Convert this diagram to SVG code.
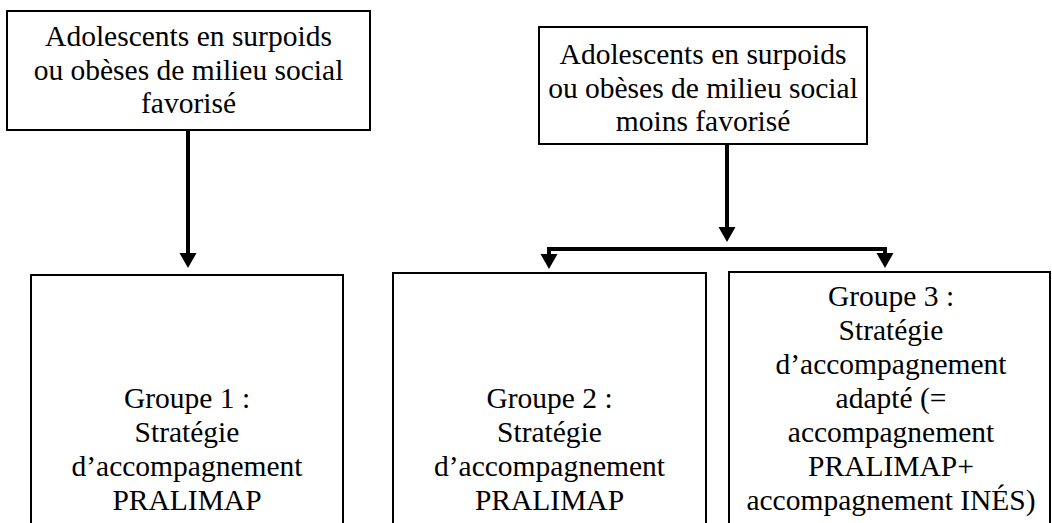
<svg xmlns="http://www.w3.org/2000/svg" width="1052" height="523" viewBox="0 0 1052 523">
<style>
.box{fill:#fff;stroke:#000;stroke-width:2}
.t{font-family:"Liberation Serif","Times New Roman",serif;font-size:29.5px;fill:#000;text-anchor:middle}
.c{stroke:#000;stroke-width:4;fill:none}
</style>
<rect width="1052" height="523" fill="#fff"/>
<g id="connectors">
<line class="c" x1="188" y1="130" x2="188" y2="254"/>
<path d="M179.5,253 L196.5,253 L188,268 Z" fill="#000"/>
<line class="c" x1="727" y1="144" x2="727" y2="228"/>
<path d="M718.5,227 L735.5,227 L727,242 Z" fill="#000"/>
<polyline class="c" points="549,256 549,249 885,249 885,255"/>
<path d="M540.5,254 L557.5,254 L549,269 Z" fill="#000"/>
<path d="M876.5,253 L893.5,253 L885,268 Z" fill="#000"/>
</g>
<g id="n1">
<rect class="box" x="7" y="11" width="363" height="119"/>
<text class="t"><tspan x="188.5" y="46">Adolescents en surpoids</tspan><tspan x="188.5" y="79.5">ou obèses de milieu social</tspan><tspan x="188.5" y="113">favorisé</tspan></text>
</g>
<g id="n2">
<rect class="box" x="539" y="27" width="328" height="117"/>
<text class="t"><tspan x="703" y="64">Adolescents en surpoids</tspan><tspan x="703" y="97.5">ou obèses de milieu social</tspan><tspan x="703" y="131">moins favorisé</tspan></text>
</g>
<g id="g1">
<rect class="box" x="31" y="275" width="312" height="260"/>
<text class="t"><tspan x="187" y="408">Groupe 1 :</tspan><tspan x="187" y="442">Stratégie</tspan><tspan x="187" y="476">d’accompagnement</tspan><tspan x="187" y="510">PRALIMAP</tspan></text>
</g>
<g id="g2">
<rect class="box" x="393" y="273" width="313" height="262"/>
<text class="t"><tspan x="549.5" y="408">Groupe 2 :</tspan><tspan x="549.5" y="442">Stratégie</tspan><tspan x="549.5" y="476">d’accompagnement</tspan><tspan x="549.5" y="510">PRALIMAP</tspan></text>
</g>
<g id="g3">
<rect class="box" x="729" y="272" width="321" height="263"/>
<text class="t"><tspan x="891" y="306">Groupe 3 :</tspan><tspan x="891" y="340">Stratégie</tspan><tspan x="891" y="374">d’accompagnement</tspan><tspan x="891" y="408">adapté (=</tspan><tspan x="891" y="442">accompagnement</tspan><tspan x="891" y="476">PRALIMAP+</tspan><tspan x="891" y="510">accompagnement INÉS)</tspan></text>
</g>
</svg>
